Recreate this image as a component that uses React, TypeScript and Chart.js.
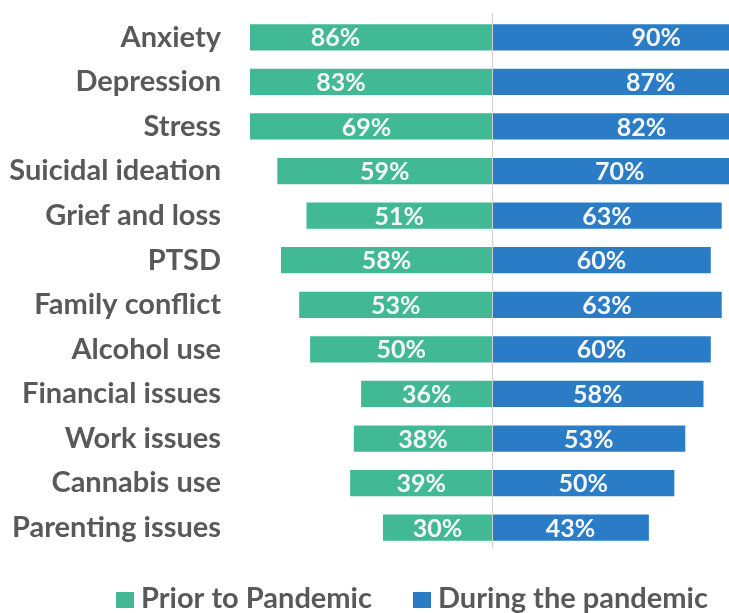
import React, { useEffect, useRef } from "react";
import { Chart, registerables } from "chart.js";

Chart.register(...registerables);

const categories = [
  "Anxiety",
  "Depression",
  "Stress",
  "Suicidal ideation",
  "Grief and loss",
  "PTSD",
  "Family conflict",
  "Alcohol use",
  "Financial issues",
  "Work issues",
  "Cannabis use",
  "Parenting issues",
];
const priorValues = [86, 83, 69, 59, 51, 58, 53, 50, 36, 38, 39, 30];
const duringValues = [90, 87, 82, 70, 63, 60, 63, 60, 58, 53, 50, 43];
const seriesLabels = ["Prior to Pandemic", "During the pandemic"];
const GREEN = "#41b994";
const BLUE = "#2a7cc7";
const FONT = "Lato, 'Noto Sans', sans-serif";

const barLabelPlugin = {
  id: "barLabels",
  afterDatasetsDraw(chart: any) {
    const ctx = chart.ctx;
    ctx.save();
    ctx.font = `bold 25px ${FONT}`;
    ctx.fillStyle = "#f4f7f6";
    ctx.textAlign = "center";
    ctx.textBaseline = "middle";
    chart.data.datasets.forEach((ds: any, di: number) => {
      const meta = chart.getDatasetMeta(di);
      meta.data.forEach((el: any, i: number) => {
        const v = Math.abs(ds.data[i]);
        const cx = (el.x + el.base) / 2;
        ctx.fillText(`${v}%`, cx, el.y + 1);
      });
    });
    ctx.restore();
  },
};

const centerLinePlugin = {
  id: "centerLine",
  afterDatasetsDraw(chart: any) {
    const ctx = chart.ctx;
    const x = chart.scales.x.getPixelForValue(0);
    ctx.save();
    ctx.strokeStyle = "#d0d0d0";
    ctx.lineWidth = 1;
    ctx.beginPath();
    ctx.moveTo(Math.round(x) + 0.5, chart.chartArea.top - 2);
    ctx.lineTo(Math.round(x) + 0.5, chart.chartArea.bottom - 2);
    ctx.stroke();
    ctx.restore();
  },
};

const legendPlugin = {
  id: "customLegend",
  afterDraw(chart: any) {
    const ctx = chart.ctx;
    ctx.save();
    ctx.font = `bold 29px ${FONT}`;
    ctx.textBaseline = "middle";
    ctx.textAlign = "left";
    const y = 599;
    const items = [
      { x: 116, color: GREEN, text: chart.data.datasets[0].label },
      { x: 413, color: BLUE, text: chart.data.datasets[1].label },
    ];
    items.forEach((it) => {
      ctx.fillStyle = it.color;
      ctx.fillRect(it.x, y - 7, 18, 16);
      ctx.fillStyle = "#595959";
      ctx.fillText(it.text, it.x + 25, y);
    });
    ctx.restore();
  },
};

export default function App() {
  const ref = useRef<HTMLCanvasElement>(null);
  useEffect(() => {
    if (!ref.current) return;
    const chart = new Chart(ref.current, {
      type: "bar",
      data: {
        labels: categories,
        datasets: [
          {
            label: seriesLabels[0],
            data: priorValues.map((v) => -v),
            backgroundColor: GREEN,
            barPercentage: 0.59,
            categoryPercentage: 1,
          },
          {
            label: seriesLabels[1],
            data: duringValues,
            backgroundColor: BLUE,
            barPercentage: 0.59,
            categoryPercentage: 1,
          },
        ],
      },
      options: {
        indexAxis: "y",
        animation: false,
        responsive: false,
        maintainAspectRatio: false,
        layout: { padding: { top: 15, bottom: 63, left: 0, right: 0 } },
        plugins: {
          legend: { display: false },
          tooltip: { enabled: false },
        },
        scales: {
          x: {
            stacked: true,
            display: false,
            min: -66.5,
            max: 65,
          },
          y: {
            stacked: true,
            grid: { display: false, drawTicks: false },
            border: { display: false },
            ticks: {
              color: "#595959",
              font: { family: FONT, size: 29, weight: "bold" },
              padding: 29,
            },
            afterFit(scale: any) {
              scale.width = 250;
              scale.paddingTop = 0;
              scale.paddingBottom = 0;
            },
          },
        },
      },
      plugins: [barLabelPlugin, centerLinePlugin, legendPlugin],
    });
    return () => chart.destroy();
  }, []);
  return (
    <div style={{ position: "fixed", left: 0, top: 0, width: 729, height: 613, background: "#fff" }}>
      <canvas ref={ref} width={729} height={613} style={{ width: 729, height: 613 }} />
    </div>
  );
}
